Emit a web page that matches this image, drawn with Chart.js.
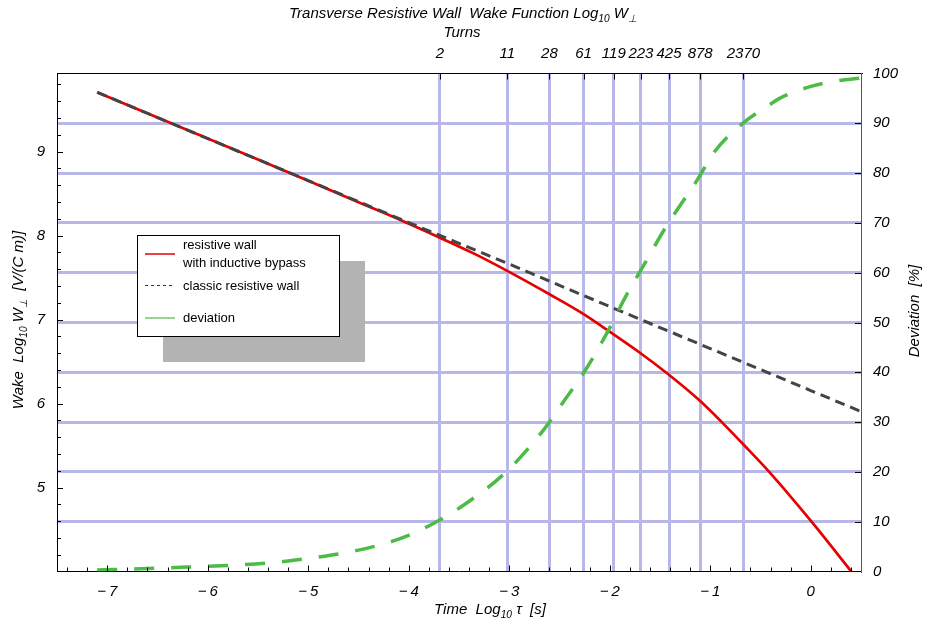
<!DOCTYPE html>
<html lang="en">
<head>
    <meta charset="UTF-8">
    <title>Transverse Resistive Wall Wake Function</title>
    <style>
        body { margin: 0; background: #fff; }
        canvas { display: block; }
    </style>
</head>
<body>
    <canvas id="wakeChart" width="925" height="629"></canvas>

    <script src="https://cdn.jsdelivr.net/npm/chart.js"></script>
    <script>
        // resistive wall with inductive bypass (log10 tau, log10 W)
        const redTau = [-7.1, -6.5, -6.0, -5.5, -5.0, -4.5, -4.05, -3.69, -3.35, -3.02, -2.59, -2.26, -2.03, -1.70, -1.43, -1.10, -0.89, -0.66, -0.42, 0.01, 0.41];
        const redW   = [9.706, 9.405, 9.155, 8.905, 8.652, 8.397, 8.168, 7.975, 7.785, 7.580, 7.295, 7.065, 6.880, 6.605, 6.360, 6.030, 5.785, 5.500, 5.195, 4.590, 3.990];

        // classic resistive wall
        const classicTau = [-7.1, -6.0, -5.0, -4.0, -3.0, -2.0, -1.0, 0.0, 0.5];
        const classicW   = [9.706, 9.155, 8.655, 8.155, 7.660, 7.155, 6.655, 6.155, 5.905];

        // deviation in percent
        const devTau = [-7.1, -6.6, -6.2, -5.7, -5.3, -4.9, -4.5, -4.1, -3.75, -3.42, -3.02, -2.66, -2.46, -2.24, -2.03, -1.85, -1.65, -1.45, -1.23, -1.13, -0.95, -0.67, -0.44, -0.30, 0.0, 0.25, 0.5];
        const devPct = [0.3, 0.6, 0.9, 1.3, 1.9, 2.9, 4.3, 6.5, 9.7, 13.8, 20.2, 28.4, 34.1, 40.5, 47.8, 54.9, 61.9, 68.9, 75.6, 78.6, 84.5, 90.1, 93.3, 95.1, 97.4, 98.5, 99.1];

        // tick labels
        const timeTicks = [-7, -6, -5, -4, -3, -2, -1, 0];
        const wakeTicks = [5, 6, 7, 8, 9];
        const turnTickPos = [-3.69, -3.02, -2.60, -2.26, -1.96, -1.69, -1.41, -1.10, -0.67];
        const turnTickLabels = ['2', '11', '28', '61', '119', '223', '425', '878', '2370'];

        const FONT = "'Liberation Sans', Arial, sans-serif";
        const gridColor = '#b7b7e8';
        const tickFont = { family: FONT, size: 15, style: 'italic' };

        function pairs(xs, ys) {
            return xs.map((x, i) => ({ x: x, y: ys[i] }));
        }

        function minusLabel(v) {
            return v < 0 ? '\u2212\u2009' + Math.abs(v) : String(v);
        }

        // text with subscripts, centred on (x, y)
        function drawRich(ctx, x, y, parts, size, angle) {
            ctx.save();
            ctx.translate(x, y);
            if (angle) ctx.rotate(angle);
            ctx.textBaseline = 'alphabetic';
            ctx.textAlign = 'left';
            let total = 0;
            parts.forEach(p => {
                ctx.font = 'italic ' + (p.sub ? size * 0.68 : size) + 'px ' + FONT;
                p.w = ctx.measureText(p.t).width;
                total += p.w;
            });
            let cx = -total / 2;
            parts.forEach(p => {
                ctx.font = 'italic ' + (p.sub ? size * 0.68 : size) + 'px ' + FONT;
                ctx.fillText(p.t, cx, p.sub ? size * 0.28 : 0);
                cx += p.w;
            });
            ctx.restore();
        }

        const decorPlugin = {
            id: 'decor',
            beforeDraw(chart) {
                const ctx = chart.ctx;
                ctx.save();
                ctx.fillStyle = '#fff';
                ctx.fillRect(0, 0, chart.width, chart.height);
                ctx.restore();
            },
            afterDraw(chart) {
                const ctx = chart.ctx;
                const a = chart.chartArea;
                const sx = chart.scales.x, sy = chart.scales.y, sy2 = chart.scales.y2, st = chart.scales.xTop;
                ctx.save();
                ctx.strokeStyle = '#000';
                ctx.lineWidth = 1;
                ctx.beginPath();
                // inward ticks, bottom
                for (let v = -7.4; v < 0.5; v += 0.2) {
                    const px = Math.round(sx.getPixelForValue(v)) + 0.5;
                    const major = Math.abs(v - Math.round(v)) < 0.01;
                    ctx.moveTo(px, a.bottom);
                    ctx.lineTo(px, a.bottom - (major ? 6 : 4));
                }
                // inward ticks, left
                for (let v = 4.2; v < 9.93; v += 0.2) {
                    const py = Math.round(sy.getPixelForValue(v)) + 0.5;
                    const major = Math.abs(v - Math.round(v)) < 0.01;
                    ctx.moveTo(a.left, py);
                    ctx.lineTo(a.left + (major ? 6 : 4), py);
                }
                // inward ticks, right
                for (let v = 10; v < 100; v += 10) {
                    const py = Math.round(sy2.getPixelForValue(v)) + 0.5;
                    ctx.moveTo(a.right, py);
                    ctx.lineTo(a.right - 6, py);
                }
                // inward ticks, top
                turnTickPos.forEach(v => {
                    const px = Math.round(st.getPixelForValue(v)) + 0.5;
                    ctx.moveTo(px, a.top);
                    ctx.lineTo(px, a.top + 6);
                });
                ctx.stroke();
                ctx.restore();

                // titles
                ctx.save();
                ctx.fillStyle = '#000';
                drawRich(ctx, 463, 18, [
                    { t: 'Transverse Resistive Wall  Wake Function Log' }, { t: '10', sub: true },
                    { t: ' W' }, { t: '\u22a5', sub: true }
                ], 15);
                drawRich(ctx, 462, 37, [{ t: 'Turns' }], 15);
                drawRich(ctx, 490, 614, [
                    { t: 'Time  Log' }, { t: '10', sub: true }, { t: ' \u03c4  [s]' }
                ], 15);
                drawRich(ctx, 23, 320, [
                    { t: 'Wake  Log' }, { t: '10', sub: true }, { t: ' W' }, { t: '\u22a5', sub: true },
                    { t: '  [V/(C m)]' }
                ], 15, -Math.PI / 2);
                drawRich(ctx, 919, 311, [{ t: 'Deviation  [%]' }], 15, -Math.PI / 2);
                ctx.restore();

                // legend with shadow
                ctx.save();
                ctx.fillStyle = '#b3b3b3';
                ctx.fillRect(163, 261, 202, 101);
                ctx.fillStyle = '#fff';
                ctx.fillRect(137, 235, 202, 101);
                ctx.strokeStyle = '#000';
                ctx.lineWidth = 1;
                ctx.strokeRect(137.5, 235.5, 202, 101);

                ctx.lineWidth = 1.5;
                ctx.strokeStyle = '#e60000';
                ctx.beginPath(); ctx.moveTo(145, 254); ctx.lineTo(175, 254); ctx.stroke();
                ctx.strokeStyle = '#333';
                ctx.lineWidth = 1;
                ctx.setLineDash([3, 3]);
                ctx.beginPath(); ctx.moveTo(145, 285.5); ctx.lineTo(175, 285.5); ctx.stroke();
                ctx.setLineDash([]);
                ctx.strokeStyle = '#4cbb47';
                ctx.lineWidth = 1.2;
                ctx.beginPath(); ctx.moveTo(145, 318); ctx.lineTo(175, 318); ctx.stroke();

                ctx.fillStyle = '#000';
                ctx.font = '13px ' + FONT;
                ctx.textBaseline = 'middle';
                ctx.textAlign = 'left';
                ctx.fillText('resistive wall', 183, 245);
                ctx.fillText('with inductive bypass', 183, 263);
                ctx.fillText('classic resistive wall', 183, 286);
                ctx.fillText('deviation', 183, 318);
                ctx.restore();
            }
        };

        const ctx = document.getElementById('wakeChart').getContext('2d');
        const wakeChart = new Chart(ctx, {
            type: 'line',
            data: {
                datasets: [
                    {
                        label: 'deviation',
                        data: pairs(devTau, devPct),
                        yAxisID: 'y2',
                        xAxisID: 'x',
                        borderColor: '#4cbb47',
                        borderWidth: 3.5,
                        borderDash: [20, 17],
                        pointRadius: 0,
                        cubicInterpolationMode: 'monotone',
                        order: 0
                    },
                    {
                        label: 'resistive wall with inductive bypass',
                        data: pairs(redTau, redW),
                        yAxisID: 'y',
                        xAxisID: 'x',
                        borderColor: '#e60000',
                        borderWidth: 2.7,
                        pointRadius: 0,
                        cubicInterpolationMode: 'monotone',
                        order: 2
                    },
                    {
                        label: 'classic resistive wall',
                        data: pairs(classicTau, classicW),
                        yAxisID: 'y',
                        xAxisID: 'x',
                        borderColor: '#444',
                        borderWidth: 3,
                        borderDash: [10, 6],
                        pointRadius: 0,
                        cubicInterpolationMode: 'monotone',
                        order: 1
                    }
                ]
            },
            options: {
                responsive: false,
                animation: false,
                layout: { padding: 0 },
                plugins: { legend: { display: false }, tooltip: { enabled: false } },
                scales: {
                    x: {
                        type: 'linear', position: 'bottom', min: -7.5, max: 0.5,
                        afterBuildTicks: s => { s.ticks = timeTicks.map(v => ({ value: v })); },
                        ticks: { callback: v => minusLabel(v), font: tickFont, color: '#000', padding: 11, maxRotation: 0, autoSkip: false },
                        grid: { drawOnChartArea: false, drawTicks: false },
                        border: { color: '#000', width: 1 },
                        afterFit: s => { s.height = 57.5; }
                    },
                    xTop: {
                        type: 'linear', position: 'top', min: -7.5, max: 0.5,
                        afterBuildTicks: s => { s.ticks = turnTickPos.map(v => ({ value: v })); },
                        ticks: { callback: (v, i) => turnTickLabels[i], font: tickFont, color: '#000', padding: 11, maxRotation: 0, autoSkip: false },
                        grid: { drawOnChartArea: true, drawTicks: false, color: gridColor, lineWidth: 3 },
                        border: { color: '#000', width: 1 },
                        afterFit: s => { s.height = 73.5; }
                    },
                    y: {
                        type: 'linear', position: 'left', min: 4, max: 9.93,
                        afterBuildTicks: s => { s.ticks = wakeTicks.map(v => ({ value: v })); },
                        ticks: { font: tickFont, color: '#000', padding: 12 },
                        grid: { drawOnChartArea: false, drawTicks: false },
                        border: { color: '#000', width: 1 },
                        afterFit: s => { s.width = 57; }
                    },
                    y2: {
                        type: 'linear', position: 'right', min: 0, max: 100,
                        ticks: { stepSize: 10, font: tickFont, color: '#000', padding: 12 },
                        grid: {
                            drawOnChartArea: true, drawTicks: false, lineWidth: 3,
                            color: c => (c.tick && (c.tick.value === 0 || c.tick.value === 100)) ? 'rgba(0,0,0,0)' : gridColor
                        },
                        border: { color: '#555', width: 1 },
                        afterFit: s => { s.width = 64; }
                    }
                }
            },
            plugins: [decorPlugin]
        });
    </script>
</body>
</html>
